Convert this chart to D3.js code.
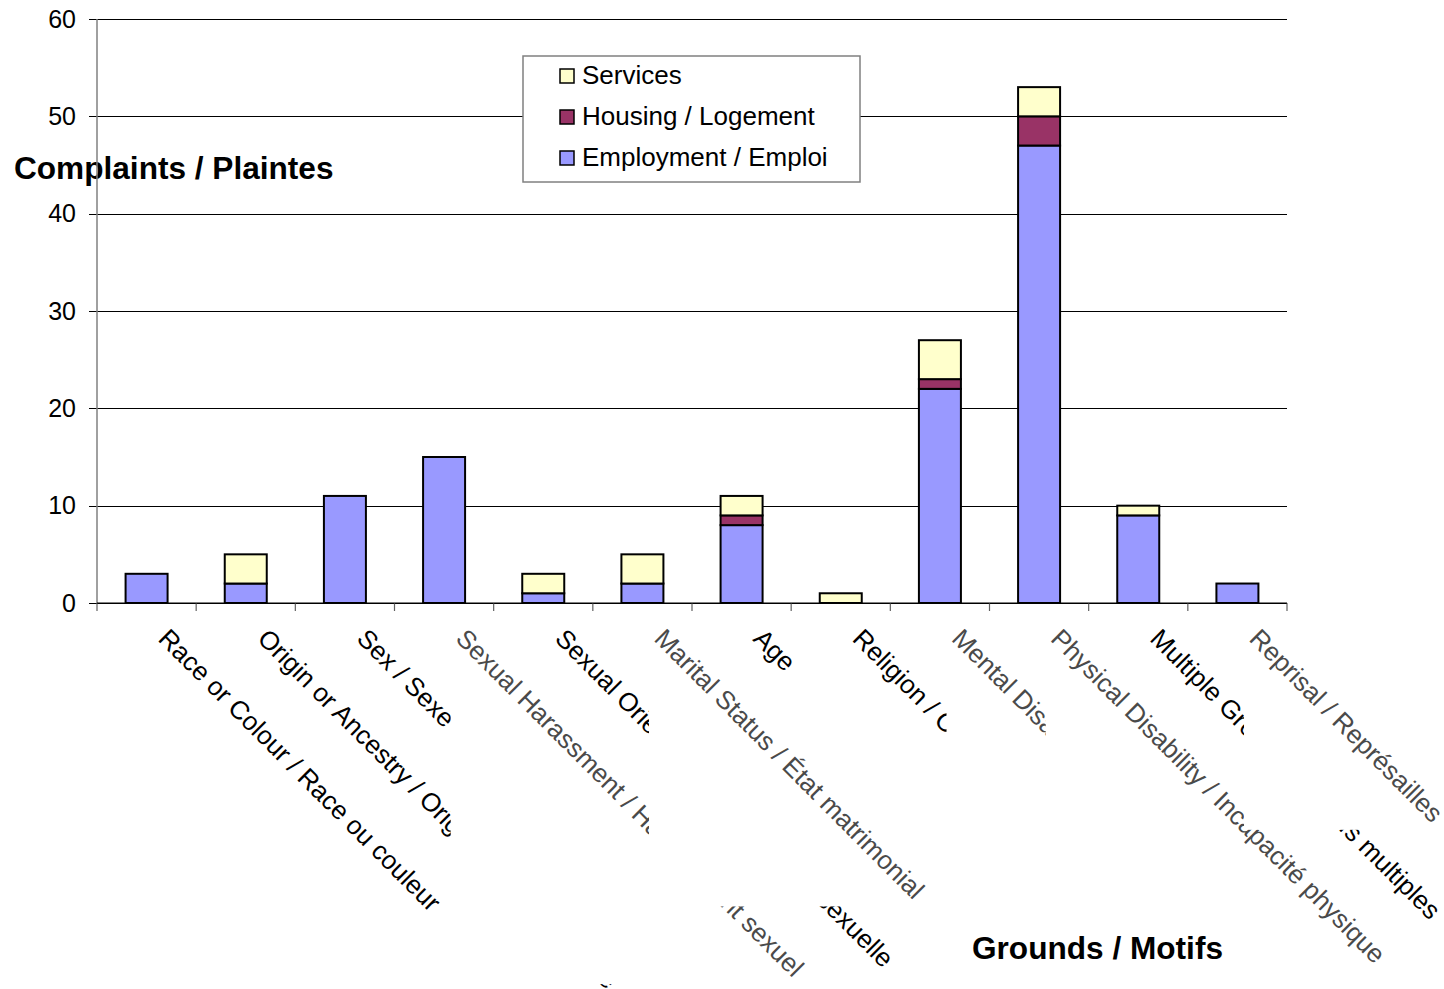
<!DOCTYPE html>
<html>
<head>
<meta charset="utf-8">
<script src="https://cdn.jsdelivr.net/npm/d3@7"></script>
<style>
  body { margin: 0; background: #fff; }
  svg { display: block; font-family: "Liberation Sans", Arial, sans-serif; }
</style>
</head>
<body>
<svg id="chart" width="1444" height="989"></svg>
<script>
// Complaints by ground, split by area of activity
const categories = [
  "Race or Colour / Race ou couleur",
  "Origin or Ancestry / Origine ou ascendance",
  "Sex / Sexe",
  "Sexual Harassment / Harcèlement sexuel",
  "Sexual Orientation / Orientation sexuelle",
  "Marital Status / État matrimonial",
  "Age",
  "Religion / Croyance",
  "Mental Disability / Incapacité mentale",
  "Physical Disability / Incapacité physique",
  "Multiple Grounds / Motifs multiples",
  "Reprisal / Représailles"
];
const employment = [3, 2, 11, 15, 1, 2, 8, 0, 22, 47, 9, 2];
const housing    = [0, 0, 0, 0, 0, 0, 1, 0, 1, 3, 0, 0];
const services   = [0, 3, 0, 0, 2, 3, 2, 1, 4, 3, 1, 0];
const seriesKeys = ["Employment / Emploi", "Housing / Logement", "Services"];
const yTicks = [0, 10, 20, 30, 40, 50, 60];
const yTitle = "Complaints / Plaintes";
const xTitle = "Grounds / Motifs";

const colors = {
  "Employment / Emploi": "#9999FF",
  "Housing / Logement": "#993366",
  "Services": "#FFFFCC"
};

const svg = d3.select("#chart");
const plotL = 97, plotR = 1287, plotT = 19, plotB = 603;

const x = d3.scaleBand().domain(categories).range([plotL, plotR]).paddingInner(0).paddingOuter(0);
const y = d3.scaleLinear().domain([0, 60]).range([plotB, plotT]);

const rows = categories.map((c, i) => ({
  cat: c,
  "Employment / Emploi": employment[i],
  "Housing / Logement": housing[i],
  "Services": services[i]
}));
const stacked = d3.stack().keys(seriesKeys)(rows);

// Y axis title (axis line is drawn over it)
svg.append("text")
  .attr("x", 14).attr("y", 179)
  .attr("font-size", 31.6).attr("font-weight", "bold")
  .text(yTitle);

// Gridlines with left tick extensions
const grid = d3.axisLeft(y).tickValues(yTicks).tickSize(-(plotR - plotL)).tickFormat("");
svg.append("g").attr("transform", `translate(${plotL},0)`).call(grid)
  .call(g => g.select(".domain").remove())
  .call(g => g.selectAll("line").attr("stroke", "#000").attr("stroke-width", 1)
    .attr("x1", -8).attr("shape-rendering", "crispEdges"));

// Tick labels
const yAxis = d3.axisLeft(y).tickValues(yTicks).tickSize(0).tickPadding(21);
svg.append("g").attr("transform", `translate(${plotL},0)`).call(yAxis)
  .call(g => g.select(".domain").remove())
  .call(g => g.selectAll("text").attr("font-size", 25)
    .attr("font-family", "Liberation Sans, Arial, sans-serif").attr("fill", "#000"));

// Vertical axis line
svg.append("line")
  .attr("x1", plotL).attr("x2", plotL).attr("y1", plotT).attr("y2", plotB)
  .attr("stroke", "#808080").attr("stroke-width", 1.5);

// Category boundary ticks under the baseline
const boundaries = categories.map(c => x(c)).concat([plotR]);
svg.append("g").selectAll("line").data(boundaries).join("line")
  .attr("x1", d => d).attr("x2", d => d)
  .attr("y1", plotB).attr("y2", plotB + 8)
  .attr("stroke", "#606060").attr("stroke-width", 1.2);

// Stacked bars
const barW = 42;
svg.append("g").selectAll("g").data(stacked).join("g")
  .attr("fill", d => colors[d.key])
  .selectAll("rect")
  .data(d => d.filter(s => s[1] - s[0] > 0))
  .join("rect")
  .attr("x", d => x(d.data.cat) + x.bandwidth() / 2 - barW / 2)
  .attr("width", barW)
  .attr("y", d => y(d[1]))
  .attr("height", d => y(d[0]) - y(d[1]))
  .attr("stroke", "#000").attr("stroke-width", 2);

// Baseline
svg.append("line")
  .attr("x1", plotL).attr("x2", plotR).attr("y1", plotB).attr("y2", plotB)
  .attr("stroke", "#000").attr("stroke-width", 1);

// Rotated category labels; some sit on opaque boxes that mask earlier labels
const opaqueLabels = new Set([3, 5, 8, 9, 11]);
const fs = 26, asc = 0.905 * fs, desc = 0.212 * fs, s45 = Math.SQRT1_2;
const labelLayer = svg.append("g");
categories.forEach((c, i) => {
  const ax = x(c) + x.bandwidth() / 2 + 10.5, ay = 640;
  const g = labelLayer.append("g");
  const t = g.append("text")
    .attr("transform", `translate(${ax},${ay}) rotate(45)`)
    .attr("font-size", fs)
    .attr("fill", opaqueLabels.has(i) ? "#4a4a4a" : "#000")
    .text(c);
  if (opaqueLabels.has(i)) {
    const L = t.node().getComputedTextLength();
    const x0 = ax - desc * s45, x1 = ax + (L + asc) * s45 + 3;
    const y0 = ay - asc * s45 - 3, y1 = ay + (L + desc) * s45 + 2;
    g.insert("rect", "text")
      .attr("x", x0).attr("y", y0).attr("width", x1 - x0).attr("height", y1 - y0)
      .attr("fill", "#fff");
  }
});

// X axis title
svg.append("text")
  .attr("x", 972).attr("y", 959)
  .attr("font-size", 31.6).attr("font-weight", "bold")
  .text(xTitle);

// Legend (Services on top, Employment at the bottom)
const legend = svg.append("g");
legend.append("rect")
  .attr("x", 523).attr("y", 56).attr("width", 337).attr("height", 126)
  .attr("fill", "#fff").attr("stroke", "#808080").attr("stroke-width", 1.5);
const legendOrder = seriesKeys.slice().reverse();
const legendY = d3.scalePoint().domain(legendOrder).range([75, 157]);
legendOrder.forEach(k => {
  legend.append("rect")
    .attr("x", 560).attr("y", legendY(k) - 6).attr("width", 14).attr("height", 14)
    .attr("fill", colors[k]).attr("stroke", "#000").attr("stroke-width", 1.5);
  legend.append("text")
    .attr("x", 582).attr("y", legendY(k) + 9)
    .attr("font-size", 26).text(k);
});
</script>
</body>
</html>
